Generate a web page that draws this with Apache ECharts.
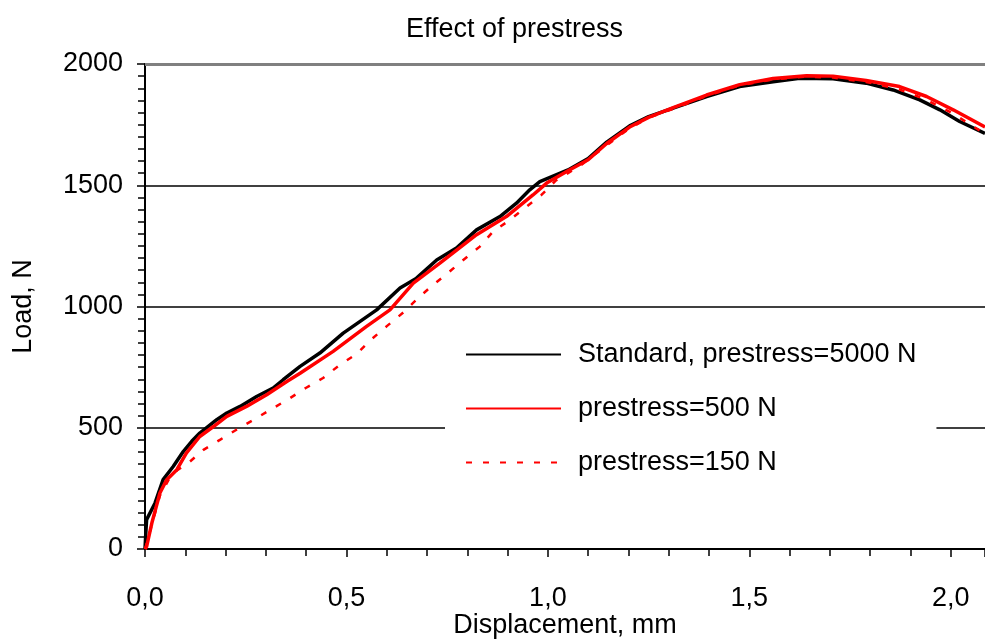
<!DOCTYPE html>
<html>
<head>
<meta charset="utf-8">
<script src="https://cdn.jsdelivr.net/npm/echarts@6/dist/echarts.min.js"></script>
<style>
    html, body { margin: 0; padding: 0; background: #fff; }
    #chart { width: 985px; height: 639px; }
</style>
</head>
<body>
<div id="chart"></div>
<script>
    // Standard, prestress=5000 N
    var stdDisp = [0, 0.002, 0.004, 0.025, 0.045, 0.07, 0.095, 0.116, 0.136, 0.178, 0.203, 0.236, 0.277, 0.318, 0.343,
        0.385, 0.434, 0.492, 0.575, 0.633, 0.674, 0.724, 0.773, 0.823, 0.881, 0.922, 0.955, 0.98, 1.05, 1.1, 1.146,
        1.203, 1.25, 1.311, 1.394, 1.476, 1.559, 1.625, 1.708, 1.79, 1.857, 1.923, 1.973, 2.022, 2.085];
    var stdLoad = [0, 66, 121, 190, 286, 340, 402, 444, 478, 533, 561, 588, 629, 664, 698,
        753, 808, 890, 986, 1076, 1117, 1192, 1241, 1316, 1371, 1426, 1481, 1515, 1563, 1610, 1678,
        1745, 1783, 1818, 1866, 1907, 1927, 1941, 1939, 1921, 1893, 1852, 1811, 1763, 1714];

    // prestress=500 N
    var p500Disp = [0, 0.004, 0.017, 0.037, 0.054, 0.079, 0.103, 0.136, 0.17, 0.203, 0.252, 0.302, 0.352,
        0.385, 0.467, 0.55, 0.608, 0.666, 0.732, 0.823, 0.897, 0.963, 0.997, 1.05, 1.1, 1.146,
        1.203, 1.25, 1.311, 1.394, 1.476, 1.559, 1.642, 1.708, 1.79, 1.873, 1.94, 2.006, 2.085];
    var p500Load = [0, 10, 107, 231, 286, 327, 396, 464, 505, 547, 588, 636, 691,
        725, 815, 918, 986, 1096, 1179, 1296, 1371, 1460, 1509, 1560, 1605, 1672,
        1740, 1780, 1820, 1872, 1915, 1940, 1952, 1950, 1932, 1907, 1866, 1811, 1740];

    // prestress=150 N
    var p150Disp = [0, 0.017, 0.037, 0.06, 0.08, 0.107, 0.145, 0.186, 0.227, 0.273, 0.314, 0.356, 0.399,
        0.442, 0.484, 0.525, 0.563, 0.601, 0.641, 0.678, 0.715, 0.753, 0.79, 0.831, 0.864, 0.906,
        0.947, 0.984, 1.02, 1.08, 1.146, 1.203, 1.25, 1.311, 1.394, 1.476, 1.559, 1.642, 1.708,
        1.79, 1.873, 1.94, 2.006, 2.085];
    var p150Load = [0, 100, 220, 290, 325, 354, 409, 450, 492, 536, 577, 618, 664,
        705, 760, 804, 866, 920, 975, 1035, 1089, 1140, 1192, 1247, 1309, 1357,
        1412, 1460, 1520, 1580, 1665, 1735, 1778, 1815, 1868, 1912, 1936, 1948, 1944,
        1926, 1895, 1852, 1795, 1712];

    var seriesNames = ["Standard, prestress=5000 N", "prestress=500 N", "prestress=150 N"];
    var yTicks = [0, 500, 1000, 1500, 2000];

    function pairs(xs, ys) {
        var out = [];
        for (var i = 0; i < xs.length; i++) {
            out.push([xs[i], ys[i]]);
        }
        return out;
    }

    var font = "'Liberation Sans', Arial, sans-serif";
    var chart = echarts.init(document.getElementById("chart"));

    var option = {
        animation: false,
        backgroundColor: "#fff",
        title: {
            text: "Effect of prestress",
            left: 401,
            top: 11,
            textStyle: {fontFamily: font, fontSize: 27, fontWeight: "normal", color: "#000"}
        },
        legend: {
            orient: "vertical",
            left: 445,
            top: 329,
            data: seriesNames,
            backgroundColor: "#fff",
            padding: [12, 20, 12, 20],
            itemWidth: 95,
            itemHeight: 26,
            itemGap: 27,
            itemStyle: {opacity: 0},
            textStyle: {fontFamily: font, fontSize: 27, color: "#000", padding: [0, 0, 0, 12]}
        },
        grid: {left: 145, right: 0, top: 64, bottom: 90, outerBoundsMode: "none"},
        xAxis: {
            type: "value",
            min: 0,
            max: 2.085,
            interval: 0.5,
            name: "Displacement, mm",
            nameLocation: "middle",
            nameGap: 63,
            nameMoveOverlap: false,
            nameTextStyle: {fontFamily: font, fontSize: 27, color: "#000"},
            axisLine: {show: true, lineStyle: {color: "#000", width: 2}},
            axisTick: {show: true, length: 8, lineStyle: {color: "#000", width: 1.5}},
            minorTick: {show: true, splitNumber: 5, length: 7, lineStyle: {color: "#000", width: 1.5}},
            splitLine: {show: false},
            axisLabel: {
                fontFamily: font, fontSize: 27, color: "#000", margin: 36,
                showMaxLabel: false,
                formatter: function (v) {
                    if (Math.abs(v * 2 - Math.round(v * 2)) > 1e-6) {
                        return "";
                    }
                    return v.toFixed(1).replace(".", ",");
                }
            }
        },
        yAxis: {
            type: "value",
            min: yTicks[0],
            max: yTicks[yTicks.length - 1],
            interval: 500,
            name: "Load, N",
            nameLocation: "middle",
            nameGap: 108,
            nameMoveOverlap: false,
            nameTextStyle: {fontFamily: font, fontSize: 27, color: "#000"},
            axisLine: {show: true, lineStyle: {color: "#000", width: 2}},
            axisTick: {show: true, length: 8, lineStyle: {color: "#000", width: 1.5}},
            minorTick: {show: true, splitNumber: 10, length: 7, lineStyle: {color: "#000", width: 1.5}},
            splitLine: {show: true, lineStyle: {color: ["#000", "#000", "#000", "#000", "#808080"], width: 1.5}},
            axisLabel: {
                fontFamily: font, fontSize: 27, color: "#000", margin: 22,
                formatter: function (v) {
                    return String(v);
                }
            }
        },
        series: [
            {
                name: seriesNames[0],
                type: "line",
                symbol: "none",
                data: pairs(stdDisp, stdLoad),
                lineStyle: {color: "#000", width: 3.5},
                itemStyle: {color: "#000"},
                markLine: {
                    silent: true,
                    symbol: "none",
                    label: {show: false},
                    lineStyle: {color: "#808080", width: 3, type: "solid"},
                    data: [{yAxis: yTicks[yTicks.length - 1]}]
                }
            },
            {
                name: seriesNames[1],
                type: "line",
                symbol: "none",
                data: pairs(p500Disp, p500Load),
                lineStyle: {color: "#ff0000", width: 3.5},
                itemStyle: {color: "#ff0000"}
            },
            {
                name: seriesNames[2],
                type: "line",
                symbol: "none",
                data: pairs(p150Disp, p150Load),
                lineStyle: {color: "#ff0000", width: 2.5, type: [6, 11]},
                itemStyle: {color: "#ff0000"}
            }
        ]
    };

    chart.setOption(option);
</script>
</body>
</html>
